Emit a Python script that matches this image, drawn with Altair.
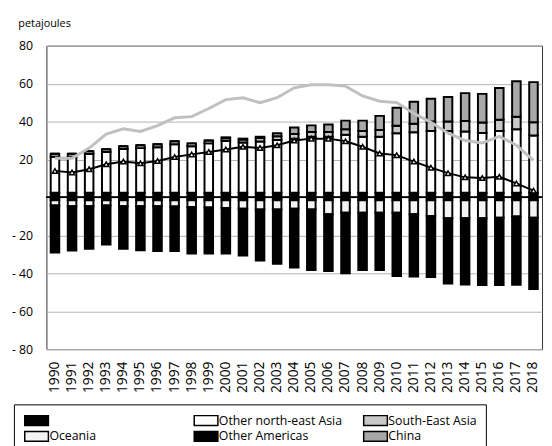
import altair as alt
import pandas as pd

years = ["1990", "1991", "1992", "1993", "1994", "1995", "1996", "1997", "1998", "1999",
         "2000", "2001", "2002", "2003", "2004", "2005", "2006", "2007", "2008", "2009",
         "2010", "2011", "2012", "2013", "2014", "2015", "2016", "2017", "2018"]

# positive stack (bottom to top)
unnamed_pos = [2.5, 2.5, 2.5, 2.5, 2.5, 2.5, 2.5, 2.5, 2.5, 2.5,
               2.5, 2.5, 2.5, 2.5, 2.5, 2.5, 2.5, 2.5, 2.5, 2.5,
               2.5, 2.5, 2.5, 2.5, 2.5, 2.5, 2.5, 2.5, 2.5]
other_ne_asia = [19.0, 19.0, 20.4, 21.4, 23.0, 23.5, 24.0, 25.6, 24.5, 26.0,
                 27.2, 26.5, 27.0, 27.8, 28.5, 29.5, 29.5, 30.5, 29.5, 29.5,
                 31.3, 31.9, 32.5, 32.5, 32.3, 31.5, 32.5, 33.5, 30.2]
south_east_asia = [1.5, 1.5, 1.5, 1.5, 1.5, 1.5, 1.5, 1.5, 1.5, 1.5,
                   1.5, 1.5, 1.8, 2.0, 2.5, 2.5, 2.5, 3.0, 3.0, 3.5,
                   4.0, 4.5, 5.0, 5.0, 5.5, 5.5, 6.0, 6.5, 7.0]
china = [0.0, 0.0, 0.0, 0.0, 0.0, 0.0, 0.0, 0.0, 0.0, 0.0,
         0.5, 0.5, 0.7, 1.5, 3.4, 3.5, 4.0, 4.5, 5.5, 7.5,
         9.5, 11.5, 12.0, 13.0, 14.7, 15.1, 16.7, 18.8, 21.1]

# negative stack (from zero downward)
other_americas = [-1.5, -1.5, -1.5, -1.5, -1.5, -1.5, -1.5, -1.5, -1.5, -1.5,
                  -1.5, -1.5, -1.5, -1.5, -1.5, -1.5, -1.5, -1.5, -1.5, -1.5,
                  -1.5, -1.5, -1.5, -1.5, -1.5, -1.5, -1.5, -1.5, -1.5]
oceania = [-2.8, -3.1, -3.1, -2.8, -3.1, -3.1, -3.1, -3.3, -3.5, -3.8,
           -4.0, -4.5, -4.9, -4.9, -4.5, -4.9, -7.4, -6.6, -6.6, -6.6,
           -6.6, -7.4, -8.3, -9.5, -9.5, -9.5, -9.2, -8.6, -9.2]
unnamed_neg = [-24.7, -23.4, -22.4, -20.5, -22.4, -23.3, -23.6, -23.4, -24.6, -24.3,
               -24.0, -24.6, -26.8, -28.6, -31.0, -31.9, -29.9, -31.9, -30.2, -30.2,
               -33.3, -32.8, -32.2, -34.4, -34.9, -35.2, -35.5, -35.9, -37.6]

# lines
grey_line = [20.7, 20.7, 26.0, 33.4, 36.2, 34.8, 37.9, 42.0, 42.6, 46.9,
             51.6, 52.5, 50.0, 52.6, 57.8, 59.4, 59.4, 58.7, 53.5, 50.7,
             50.0, 44.3, 39.6, 33.9, 30.0, 28.7, 32.2, 27.5, 19.6]
black_line = [14.0, 13.2, 14.9, 17.5, 18.9, 18.0, 19.2, 21.3, 22.7, 24.0,
              25.3, 26.7, 26.1, 27.5, 30.0, 31.0, 31.0, 29.6, 26.7, 23.2,
              22.3, 18.9, 15.7, 12.8, 10.6, 10.2, 10.9, 7.4, 3.6]

y_ticks = [-80, -60, -40, -20, 0, 20, 40, 60, 80]

UNNAMED = " "
# legend fills column by column: col1 = [UNNAMED, Oceania], col2 = [ONEA, Other Americas], col3 = [SEA, China]
series_names = [UNNAMED, "Oceania", "Other north-east Asia", "Other Americas",
                "South-East Asia", "China"]
series_colors = ["#000000", "#f4f4f4", "#ffffff", "#000000", "#c8c8c8", "#a8a8a8"]

stack_parts = [
    (UNNAMED, unnamed_pos, 1),
    ("Other north-east Asia", other_ne_asia, 2),
    ("South-East Asia", south_east_asia, 3),
    ("China", china, 4),
    ("Other Americas", other_americas, 1),
    ("Oceania", oceania, 2),
    (UNNAMED, unnamed_neg, 3),
]
rows = []
for i, yr in enumerate(years):
    for name, vals, order in stack_parts:
        rows.append({"year": yr, "series": name, "value": vals[i], "ord": order})
bars_df = pd.DataFrame(rows)
grey_df = pd.DataFrame({"year": years, "value": grey_line})
black_df = pd.DataFrame({"year": years, "value": black_line})

FONT = "Open Sans"

x_axis = alt.Axis(labelAngle=-90, labelFontSize=14, labelFont=FONT,
                  labelColor="black", ticks=False, domain=False, labelPadding=12)
x_scale = alt.Scale(paddingInner=0.5, paddingOuter=0.25)

y_axis = alt.Axis(values=y_ticks, tickCount=20, labelOverlap=False,
                  labelExpr="datum.value == 0 ? '' : (datum.value < 0 ? '- ' + (-datum.value) : datum.label)",
                  grid=True, gridColor="#b4b4b4", gridWidth=1,
                  ticks=False, domain=False, labelPadding=14,
                  labelFontSize=12.5, labelFont=FONT, labelColor="black",
                  title="petajoules", titleAngle=0, titleAlign="left",
                  titleBaseline="alphabetic", titleX=-29, titleY=-19,
                  titleFont=FONT, titleFontSize=11, titleFontWeight="normal",
                  titleColor="black")
y_scale = alt.Scale(domain=[-80, 80], nice=False)

bars = alt.Chart(bars_df).mark_bar(stroke="black", strokeWidth=2).encode(
    x=alt.X("year:O", title=None, scale=x_scale, axis=x_axis),
    y=alt.Y("value:Q", stack="zero", scale=y_scale, axis=y_axis),
    color=alt.Color("series:N",
                    scale=alt.Scale(domain=series_names, range=series_colors),
                    sort=series_names,
                    legend=alt.Legend(
                        title=None, orient="none", legendX=-33, legendY=364,
                        columns=3, gridAlign="all", columnPadding=18, rowPadding=-1.5,
                        symbolType="M-2,-0.84H2V0.84H-2Z", symbolSize=144,
                        symbolStrokeColor="black", symbolStrokeWidth=1.5,
                        symbolOffset=7,
                        labelFont=FONT, labelFontSize=12.5, labelColor="black",
                        labelOffset=6, labelLimit=400, padding=9,
                        strokeColor="black", fillColor="white")),
    order=alt.Order("ord:Q"),
)

zero = alt.Chart(grey_df).mark_rule(color="black", strokeWidth=1).encode(
    y=alt.datum(0, scale=y_scale, axis=y_axis))

grey = alt.Chart(grey_df).mark_line(color="#c0c0c0", strokeWidth=3).encode(
    x=alt.X("year:O", title=None, scale=x_scale, axis=x_axis),
    y=alt.Y("value:Q", scale=y_scale, axis=y_axis))

black = alt.Chart(black_df).mark_line(
    color="black", strokeWidth=2,
    point=alt.OverlayMarkDef(shape="triangle-up", filled=True, fill="white",
                             stroke="black", strokeWidth=1.5, size=28)
).encode(x=alt.X("year:O", title=None, scale=x_scale, axis=x_axis),
         y=alt.Y("value:Q", scale=y_scale, axis=y_axis))

chart = alt.layer(bars, zero, grey, black).properties(
    width=503, height=308,
    autosize=alt.AutoSizeParams(type="none"),
    padding={"left": 39, "top": 35, "right": 2, "bottom": 95},
).configure_view(stroke="#333333", strokeWidth=1)

chart.save("out.html", embed_options={"renderer": "svg", "actions": False})
